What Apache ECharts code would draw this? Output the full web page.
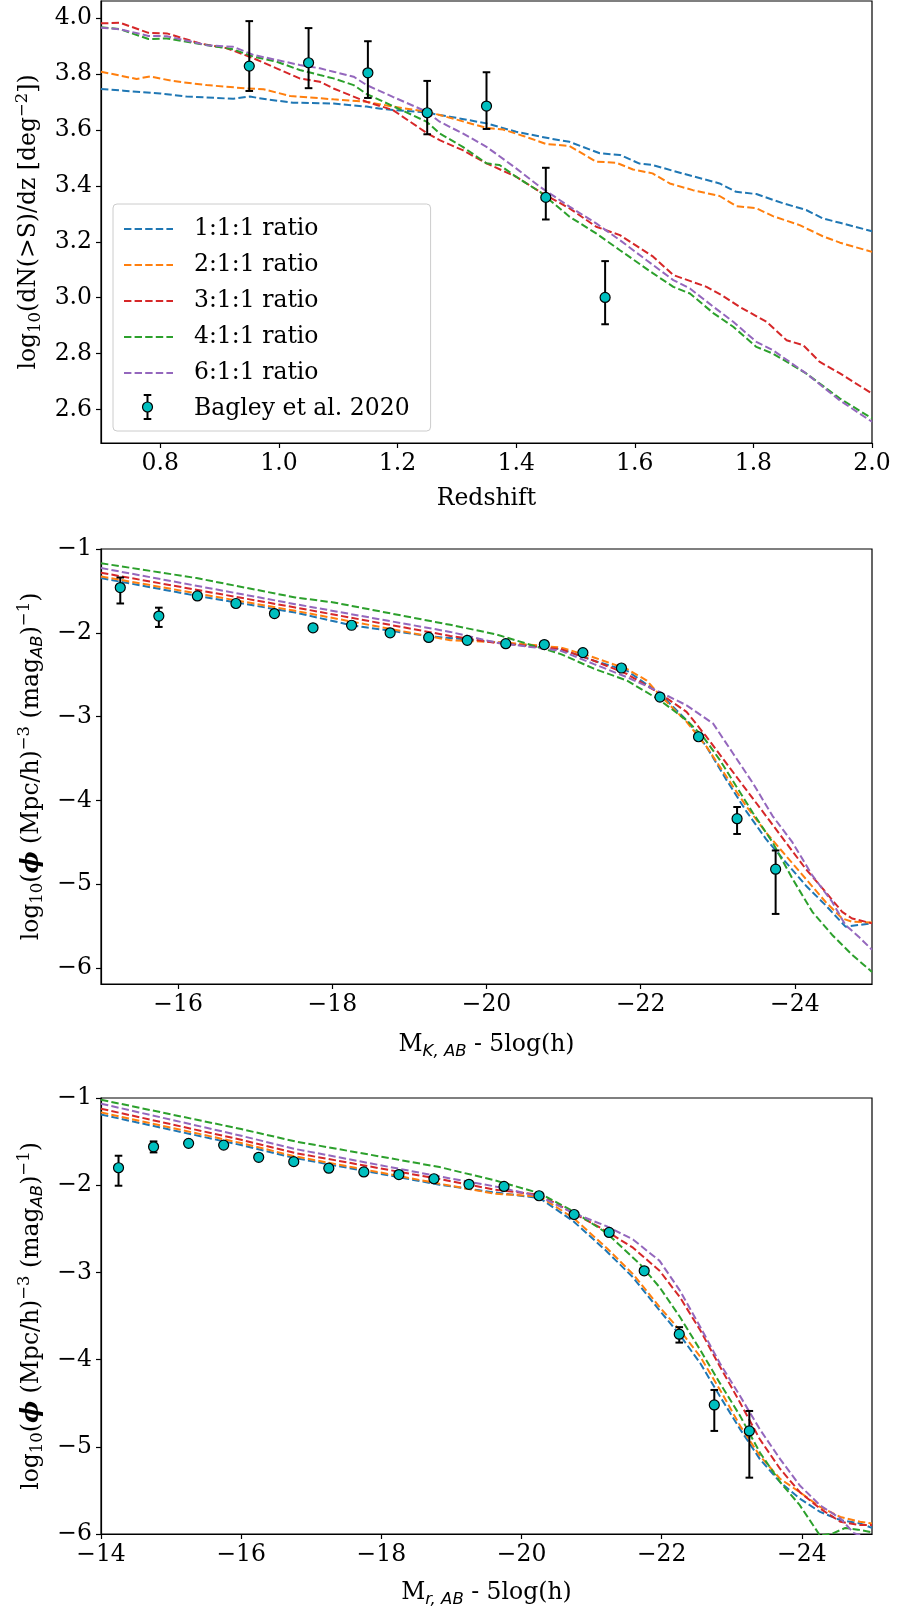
<!DOCTYPE html>
<html>
<head>
<meta charset="utf-8">
<script src="https://cdn.jsdelivr.net/npm/echarts@6/dist/echarts.min.js"></script>
<style>
html,body{margin:0;padding:0;background:#fff;}
#chart{width:897px;height:1609px;}
</style>
</head>
<body>
<div id="chart"></div>
<script>
// ---------- Shared ----------
const ratioNames = ['1:1:1 ratio', '2:1:1 ratio', '3:1:1 ratio', '4:1:1 ratio', '6:1:1 ratio'];
const ratioColors = ['#1f77b4', '#ff7f0e', '#d62728', '#2ca02c', '#9467bd'];
const obsName = 'Bagley et al. 2020';

// ---------- Panel 1: redshift distribution ----------
const z111 = [0.70, 0.738, 0.80, 0.844, 0.923, 0.951, 0.979, 1.024, 1.092, 1.148, 1.176, 1.249, 1.271, 1.288, 1.35, 1.40, 1.457, 1.49, 1.541, 1.575, 1.608, 1.63, 1.68, 1.743, 1.771, 1.805, 1.85, 1.889, 1.917, 1.946, 2.0];
const dn111 = [3.747, 3.741, 3.731, 3.72, 3.712, 3.72, 3.71, 3.698, 3.695, 3.684, 3.675, 3.663, 3.654, 3.648, 3.624, 3.594, 3.570, 3.558, 3.517, 3.511, 3.48, 3.475, 3.445, 3.409, 3.379, 3.371, 3.338, 3.314, 3.284, 3.268, 3.238];
const z211 = [0.70, 0.76, 0.783, 0.82, 0.878, 0.946, 0.974, 1.019, 1.092, 1.148, 1.192, 1.249, 1.271, 1.35, 1.378, 1.412, 1.451, 1.49, 1.535, 1.569, 1.597, 1.63, 1.659, 1.698, 1.743, 1.771, 1.805, 1.833, 1.878, 1.917, 1.946, 2.0];
const dn211 = [3.809, 3.783, 3.792, 3.776, 3.761, 3.749, 3.746, 3.722, 3.71, 3.701, 3.684, 3.666, 3.654, 3.608, 3.602, 3.579, 3.55, 3.543, 3.487, 3.483, 3.459, 3.445, 3.409, 3.385, 3.364, 3.328, 3.32, 3.292, 3.26, 3.22, 3.197, 3.164];
const z311 = [0.70, 0.732, 0.78, 0.811, 0.867, 0.912, 0.957, 0.996, 1.035, 1.069, 1.092, 1.148, 1.192, 1.249, 1.271, 1.31, 1.35, 1.40, 1.44, 1.49, 1.535, 1.575, 1.631, 1.665, 1.721, 1.749, 1.777, 1.822, 1.856, 1.884, 1.912, 1.946, 2.0];
const dn311 = [3.982, 3.984, 3.948, 3.946, 3.91, 3.893, 3.857, 3.821, 3.785, 3.773, 3.749, 3.701, 3.672, 3.59, 3.564, 3.528, 3.481, 3.433, 3.379, 3.32, 3.254, 3.224, 3.147, 3.081, 3.039, 3.006, 2.967, 2.914, 2.848, 2.83, 2.77, 2.729, 2.657];
const z411 = [0.70, 0.732, 0.78, 0.811, 0.867, 0.923, 0.957, 0.996, 1.035, 1.069, 1.092, 1.126, 1.148, 1.192, 1.249, 1.271, 1.31, 1.35, 1.372, 1.40, 1.44, 1.49, 1.535, 1.575, 1.631, 1.665, 1.693, 1.733, 1.766, 1.805, 1.833, 1.889, 1.946, 2.0];
const dn411 = [3.968, 3.961, 3.926, 3.928, 3.908, 3.889, 3.863, 3.845, 3.815, 3.797, 3.785, 3.761, 3.729, 3.686, 3.63, 3.588, 3.54, 3.481, 3.475, 3.433, 3.379, 3.29, 3.23, 3.17, 3.087, 3.039, 3.015, 2.944, 2.896, 2.824, 2.8, 2.729, 2.639, 2.568];
const z611 = [0.70, 0.732, 0.78, 0.811, 0.878, 0.923, 0.957, 0.996, 1.035, 1.069, 1.092, 1.126, 1.148, 1.192, 1.249, 1.271, 1.31, 1.35, 1.40, 1.44, 1.49, 1.535, 1.575, 1.62, 1.665, 1.693, 1.733, 1.766, 1.805, 1.833, 1.889, 1.946, 2.0];
const dn611 = [3.966, 3.961, 3.937, 3.936, 3.904, 3.898, 3.869, 3.851, 3.833, 3.821, 3.809, 3.791, 3.761, 3.719, 3.666, 3.63, 3.588, 3.54, 3.463, 3.397, 3.326, 3.266, 3.206, 3.134, 3.063, 3.033, 2.967, 2.914, 2.842, 2.812, 2.729, 2.632, 2.556];

const obsZ = [0.95, 1.05, 1.15, 1.25, 1.35, 1.45, 1.55];
const obsN = [3.829, 3.841, 3.805, 3.662, 3.686, 3.359, 3.001];
const obsNLo = [3.74, 3.75, 3.715, 3.585, 3.604, 3.28, 2.905];
const obsNHi = [3.99, 3.965, 3.918, 3.776, 3.807, 3.465, 3.131];

const zTicks = [0.8, 1.0, 1.2, 1.4, 1.6, 1.8, 2.0];
const nTicks = [2.6, 2.8, 3.0, 3.2, 3.4, 3.6, 3.8, 4.0];

// ---------- Panel 2: K-band luminosity function ----------
const kx111 = [-15, -16.25, -17.52, -18.25, -19.25, -20.27, -20.965, -21.394, -21.823, -22.252, -22.595, -22.853, -23.11, -23.368, -23.626, -23.883, -24.141, -24.398, -24.656, -25];
const ky111 = [-1.347, -1.56, -1.758, -1.91, -2.04, -2.124, -2.195, -2.333, -2.452, -2.727, -3.043, -3.358, -3.752, -4.127, -4.462, -4.738, -5.014, -5.25, -5.506, -5.467];
const kx211 = [-15, -17.52, -19.53, -20.27, -20.965, -21.394, -21.823, -22.08, -22.252, -22.595, -22.853, -23.11, -23.368, -23.626, -23.883, -24.141, -24.398, -24.613, -24.741, -25];
const ky211 = [-1.327, -1.738, -2.089, -2.117, -2.176, -2.294, -2.432, -2.57, -2.747, -3.062, -3.358, -3.713, -4.068, -4.383, -4.659, -4.935, -5.211, -5.408, -5.447, -5.455];
const kx311 = [-15, -17.52, -19.53, -20.12, -20.965, -21.394, -21.823, -22.252, -22.595, -22.853, -23.11, -23.368, -23.626, -23.883, -24.141, -24.398, -24.613, -24.741, -25];
const ky311 = [-1.283, -1.698, -2.037, -2.12, -2.195, -2.333, -2.491, -2.727, -2.944, -3.24, -3.555, -3.871, -4.186, -4.501, -4.817, -5.092, -5.329, -5.408, -5.467];
const kx411 = [-15, -16.24, -17.52, -18.02, -19.53, -20.12, -20.965, -21.394, -21.823, -22.252, -22.595, -22.81, -23.025, -23.239, -23.454, -23.711, -23.969, -24.226, -24.484, -24.741, -25];
const ky411 = [-1.17, -1.347, -1.578, -1.638, -1.905, -2.017, -2.254, -2.428, -2.57, -2.806, -3.043, -3.24, -3.516, -3.831, -4.146, -4.501, -4.935, -5.329, -5.605, -5.841, -6.046];
const kx611 = [-15, -17.52, -19.53, -20.12, -20.965, -21.394, -21.823, -22.252, -22.595, -22.939, -23.196, -23.454, -23.711, -23.969, -24.226, -24.484, -24.656, -24.827, -25];
const ky611 = [-1.227, -1.658, -1.989, -2.116, -2.215, -2.373, -2.53, -2.708, -2.865, -3.082, -3.437, -3.792, -4.186, -4.501, -4.895, -5.211, -5.487, -5.625, -5.782];

const obsMagK = [-15.25, -15.75, -16.25, -16.75, -17.25, -17.75, -18.25, -18.75, -19.25, -19.75, -20.25, -20.75, -21.25, -21.75, -22.25, -22.75, -23.25, -23.75];
const obsPhiK = [-1.46, -1.80, -1.56, -1.65, -1.77, -1.94, -1.91, -2.0, -2.055, -2.09, -2.13, -2.14, -2.236, -2.42, -2.767, -3.24, -4.218, -4.82];
const obsPhiKLo = [-1.65, -1.93, -1.56, -1.65, -1.77, -1.94, -1.91, -2.0, -2.055, -2.09, -2.13, -2.14, -2.236, -2.42, -2.767, -3.24, -4.40, -5.354];
const obsPhiKHi = [-1.34, -1.70, -1.56, -1.65, -1.77, -1.94, -1.91, -2.0, -2.055, -2.09, -2.13, -2.14, -2.236, -2.42, -2.767, -3.24, -4.078, -4.597];

const magKTicks = [-24, -22, -20, -18, -16];
const phiTicks = [-6, -5, -4, -3, -2, -1];

// ---------- Panel 3: r-band luminosity function ----------
const rx111 = [-14, -16, -16.77, -18.83, -19.62, -20.26, -20.74, -21.21, -21.59, -21.97, -22.26, -22.55, -22.83, -23.12, -23.40, -23.69, -23.97, -24.26, -24.55, -24.83, -25];
const ry111 = [-1.19, -1.54, -1.689, -1.995, -2.083, -2.148, -2.414, -2.754, -3.057, -3.436, -3.72, -4.042, -4.421, -4.8, -5.141, -5.406, -5.595, -5.747, -5.841, -5.879, -5.93];
const rx211 = [-14, -16, -16.77, -18.83, -19.62, -20.26, -20.74, -21.21, -21.59, -21.97, -22.26, -22.55, -22.83, -23.12, -23.40, -23.69, -23.97, -24.26, -24.55, -24.83, -25];
const ry211 = [-1.165, -1.517, -1.67, -1.983, -2.098, -2.129, -2.376, -2.717, -3.02, -3.398, -3.664, -3.967, -4.345, -4.762, -5.103, -5.368, -5.52, -5.69, -5.804, -5.86, -5.879];
const rx311 = [-14, -16, -16.77, -18.83, -19.62, -20.26, -20.74, -21.21, -21.59, -21.97, -22.26, -22.55, -22.83, -23.12, -23.40, -23.69, -23.97, -24.26, -24.55, -24.83, -25];
const ry311 = [-1.123, -1.479, -1.631, -1.93, -2.052, -2.11, -2.319, -2.527, -2.717, -2.982, -3.285, -3.664, -4.08, -4.497, -4.914, -5.254, -5.52, -5.709, -5.86, -5.898, -5.898];
const rx411 = [-14, -16, -16.77, -18.83, -19.62, -20.26, -20.74, -21.21, -21.69, -21.97, -22.26, -22.55, -22.83, -23.12, -23.40, -23.69, -23.97, -24.26, -24.45, -24.62, -24.8, -25];
const ry411 = [-1.02, -1.356, -1.498, -1.792, -1.945, -2.092, -2.30, -2.546, -2.906, -3.171, -3.512, -3.891, -4.27, -4.648, -5.065, -5.406, -5.67, -6.02, -5.99, -5.93, -5.95, -5.98];
const rx611 = [-14, -16, -16.77, -18.83, -19.62, -20.26, -20.74, -21.21, -21.59, -21.97, -22.26, -22.55, -22.83, -23.12, -23.40, -23.69, -23.97, -24.26, -24.55, -24.74, -25];
const ry611 = [-1.065, -1.433, -1.585, -1.9, -2.014, -2.129, -2.319, -2.47, -2.622, -2.868, -3.209, -3.626, -4.042, -4.421, -4.8, -5.141, -5.444, -5.671, -5.822, -5.99, -6.05];

const obsMagR = [-14.25, -14.75, -15.25, -15.75, -16.25, -16.75, -17.25, -17.75, -18.25, -18.75, -19.25, -19.75, -20.25, -20.75, -21.25, -21.75, -22.25, -22.75, -23.25];
const obsPhiR = [-1.80, -1.56, -1.52, -1.54, -1.68, -1.73, -1.805, -1.848, -1.878, -1.926, -1.99, -2.014, -2.121, -2.336, -2.542, -2.982, -3.709, -4.52, -4.818];
const obsPhiRLo = [-2.006, -1.624, -1.52, -1.54, -1.68, -1.73, -1.805, -1.848, -1.878, -1.926, -1.99, -2.014, -2.121, -2.336, -2.542, -2.982, -3.805, -4.818, -5.354];
const obsPhiRHi = [-1.662, -1.498, -1.52, -1.54, -1.68, -1.73, -1.805, -1.848, -1.878, -1.926, -1.99, -2.014, -2.121, -2.336, -2.542, -2.982, -3.628, -4.348, -4.589];

const magRTicks = [-24, -22, -20, -18, -16, -14];

// ---------- Styling helpers ----------
const FONT = 'DejaVu Serif';
const FS = 23.5;
const SUBFS = 16.5;
const rich = {
  n: {fontFamily: FONT, fontSize: FS, color: '#000', lineHeight: 30},
  sub: {fontFamily: FONT, fontSize: SUBFS, color: '#000', verticalAlign: 'bottom', lineHeight: 18},
  sup: {fontFamily: FONT, fontSize: SUBFS, color: '#000', verticalAlign: 'top', lineHeight: 14},
  subi: {fontFamily: 'DejaVu Sans', fontStyle: 'italic', fontSize: SUBFS, color: '#000', verticalAlign: 'bottom', lineHeight: 18},
  phi: {fontFamily: FONT, fontStyle: 'italic', fontWeight: 'bold', fontSize: FS, color: '#000', lineHeight: 30}
};
const minus = v => (v < 0 ? '\u2212' : '') + Math.abs(v);

function zip2(xs, ys) {
  const n = Math.min(xs.length, ys.length);
  const out = [];
  for (let i = 0; i < n; i++) out.push([xs[i], ys[i]]);
  return out;
}
function zip4(a, b, c, d) {
  const out = [];
  for (let i = 0; i < a.length; i++) out.push([a[i], b[i], c[i], d[i]]);
  return out;
}

function lineSeries(i, xs, ys, gi) {
  return {
    type: 'line', name: ratioNames[i], xAxisIndex: gi, yAxisIndex: gi,
    data: zip2(xs, ys), showSymbol: false, symbol: 'none', smooth: false,
    color: ratioColors[i], clip: true,
    lineStyle: {color: ratioColors[i], width: 2, type: [7.4, 3.2]},
    emphasis: {disabled: true}, z: 2
  };
}

function errRender(params, api) {
  const x = api.value(0), y = api.value(1), lo = api.value(2), hi = api.value(3);
  const c = api.coord([x, y]), a = api.coord([x, lo]), b = api.coord([x, hi]);
  const cap = 3.8;
  const st = {stroke: '#000', lineWidth: 2};
  return {
    type: 'group', children: [
      {type: 'line', shape: {x1: a[0], y1: a[1], x2: b[0], y2: b[1]}, style: st},
      {type: 'line', shape: {x1: a[0] - cap, y1: a[1], x2: a[0] + cap, y2: a[1]}, style: st},
      {type: 'line', shape: {x1: b[0] - cap, y1: b[1], x2: b[0] + cap, y2: b[1]}, style: st},
      {type: 'circle', shape: {cx: c[0], cy: c[1], r: 5}, style: {fill: '#00bfbf', stroke: '#000', lineWidth: 1.2}}
    ]
  };
}
function obsSeries(data, gi) {
  return {
    type: 'custom', name: obsName, xAxisIndex: gi, yAxisIndex: gi,
    data: data, renderItem: errRender, encode: {x: 0, y: 1},
    itemStyle: {color: '#00bfbf'}, z: 5, silent: true
  };
}

const axisCommon = {
  axisLine: {show: true, onZero: false, lineStyle: {color: '#000', width: 1.2}},
  splitLine: {show: false}
};
function xAxis(gi, min, max, inverse, ticks, fmt, name, gap) {
  return Object.assign({}, axisCommon, {
    type: 'value', gridIndex: gi, min: min, max: max, inverse: inverse,
    axisTick: {show: true, inside: false, length: 5, customValues: ticks, lineStyle: {color: '#000', width: 1.2}},
    axisLabel: {customValues: ticks, formatter: fmt, fontFamily: FONT, fontSize: FS, color: '#000', margin: 9},
    name: name, nameLocation: 'middle', nameGap: gap,
    nameTextStyle: {fontFamily: FONT, fontSize: FS, color: '#000', rich: rich}
  });
}
function yAxis(gi, min, max, ticks, fmt, name, gap) {
  return Object.assign({}, axisCommon, {
    type: 'value', gridIndex: gi, min: min, max: max,
    axisTick: {show: true, inside: false, length: 5, customValues: ticks, lineStyle: {color: '#000', width: 1.2}},
    axisLabel: {customValues: ticks, formatter: fmt, fontFamily: FONT, fontSize: FS, color: '#000', margin: 9},
    name: name, nameLocation: 'middle', nameGap: gap, nameRotate: 90,
    nameTextStyle: {fontFamily: FONT, fontSize: FS, color: '#000', rich: rich}
  });
}

const gridCommon = {show: true, borderColor: '#000', borderWidth: 1.2, backgroundColor: 'transparent', left: 101, right: 25};

const lfYName = '{n|log}{sub|10}{n|(}{phi|\u03d5}{n| (Mpc/h)}{sup|\u22123}{n| (mag}{subi|AB}{n|)}{sup|\u22121}{n|)}';
const hiddenSymbol = {color: 'rgba(0,0,0,0)', borderWidth: 0, opacity: 0};

const option = {
  animation: false,
  backgroundColor: '#fff',
  grid: [
    Object.assign({}, gridCommon, {top: 1, height: 442}),
    Object.assign({}, gridCommon, {top: 549, height: 435}),
    Object.assign({}, gridCommon, {top: 1098, height: 436})
  ],
  xAxis: [
    xAxis(0, 0.7, 2.0, false, zTicks, v => v.toFixed(1), '{n|Redshift}', 41),
    xAxis(1, -25, -15, true, magKTicks, minus, '{n|M}{subi|K, AB}{n| - 5log(h)}', 46),
    xAxis(2, -25, -14, true, magRTicks, minus, '{n|M}{subi|r, AB}{n| - 5log(h)}', 44)
  ],
  yAxis: [
    yAxis(0, 2.48, 4.062, nTicks, v => v.toFixed(1), '{n|log}{sub|10}{n|(dN(>S)/dz [deg}{sup|\u22122}{n|])}', 53),
    yAxis(1, -6.19, -1, phiTicks, minus, lfYName, 51),
    yAxis(2, -6, -1, phiTicks, minus, lfYName, 51)
  ],
  legend: {
    orient: 'vertical', left: 113, top: 204,
    padding: [12, 21, 9, 10],
    itemWidth: 49, itemHeight: 14, itemGap: 10,
    backgroundColor: 'rgba(255,255,255,0.8)', borderColor: '#cccccc', borderWidth: 1, borderRadius: 4,
    textStyle: {fontFamily: FONT, fontSize: FS, color: '#000', lineHeight: 26, padding: [0, 0, 0, 16]},
    selectedMode: false,
    data: ratioNames.map(n => ({name: n, itemStyle: hiddenSymbol}))
      .concat([{name: obsName, icon: 'circle', itemStyle: hiddenSymbol}])
  },
  graphic: [
    {type: 'line', z: 100, silent: true, shape: {x1: 147.5, y1: 395, x2: 147.5, y2: 419}, style: {stroke: '#000', lineWidth: 2}},
    {type: 'line', z: 100, silent: true, shape: {x1: 143.7, y1: 395, x2: 151.3, y2: 395}, style: {stroke: '#000', lineWidth: 2}},
    {type: 'line', z: 100, silent: true, shape: {x1: 143.7, y1: 419, x2: 151.3, y2: 419}, style: {stroke: '#000', lineWidth: 2}},
    {type: 'circle', z: 101, silent: true, shape: {cx: 147.5, cy: 407, r: 5}, style: {fill: '#00bfbf', stroke: '#000', lineWidth: 1.2}}
  ],
  series: [
    lineSeries(0, z111, dn111, 0),
    lineSeries(1, z211, dn211, 0),
    lineSeries(2, z311, dn311, 0),
    lineSeries(3, z411, dn411, 0),
    lineSeries(4, z611, dn611, 0),
    obsSeries(zip4(obsZ, obsN, obsNLo, obsNHi), 0),
    lineSeries(0, kx111, ky111, 1),
    lineSeries(1, kx211, ky211, 1),
    lineSeries(2, kx311, ky311, 1),
    lineSeries(3, kx411, ky411, 1),
    lineSeries(4, kx611, ky611, 1),
    obsSeries(zip4(obsMagK, obsPhiK, obsPhiKLo, obsPhiKHi), 1),
    lineSeries(0, rx111, ry111, 2),
    lineSeries(1, rx211, ry211, 2),
    lineSeries(2, rx311, ry311, 2),
    lineSeries(3, rx411, ry411, 2),
    lineSeries(4, rx611, ry611, 2),
    obsSeries(zip4(obsMagR, obsPhiR, obsPhiRLo, obsPhiRHi), 2)
  ]
};

const chart = echarts.init(document.getElementById('chart'), null, {renderer: 'canvas', width: 897, height: 1609});
chart.setOption(option);
</script>
</body>
</html>
